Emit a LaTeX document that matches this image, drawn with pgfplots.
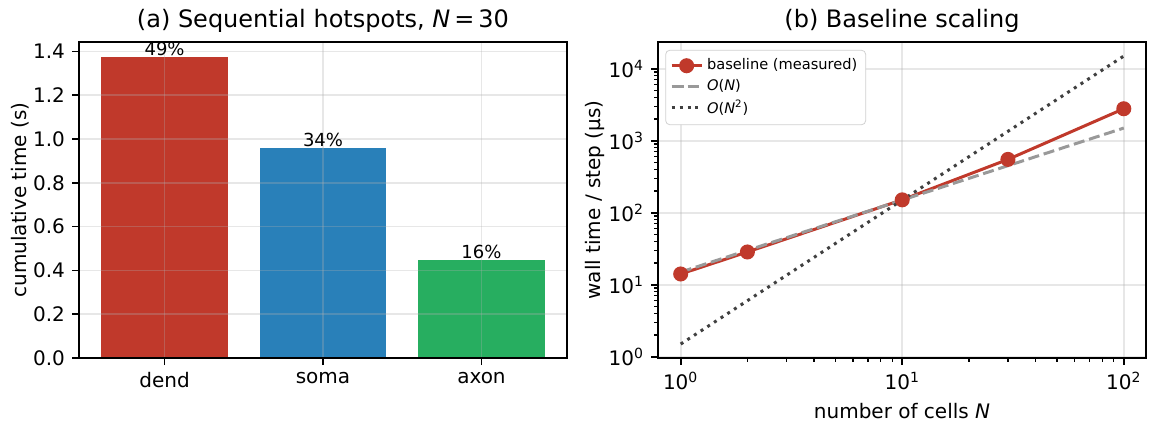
\documentclass[border=0pt]{standalone}
\usepackage{fontspec}
\setmainfont{DejaVu Sans}
\usepackage{pgfplots}
\pgfplotsset{compat=1.18}

\definecolor{cdend}{HTML}{C0392B}
\definecolor{csoma}{HTML}{2980B9}
\definecolor{caxon}{HTML}{27AE60}
\definecolor{gridc}{HTML}{B0B0B0}

\pgfplotsset{
  mplstyle/.style={
    scale only axis,
    width=244pt, height=158pt,
    axis line style={line width=0.8pt},
    tick align=outside,
    tick pos=lower,
    xtick pos=bottom, ytick pos=left,
    major tick length=3.5pt,
    minor tick length=2pt,
    every tick/.style={black, line width=0.8pt},
    minor tick style={line width=0.6pt},
    tick label style={font=\fontsize{10}{12}\selectfont},
    label style={font=\fontsize{10}{12}\selectfont},
    ylabel style={yshift=-5pt},
    title style={font=\fontsize{12}{14}\selectfont, yshift=-5pt},
    grid style={color=gridc, opacity=0.3, line width=0.8pt},
    /pgf/number format/assume math mode=true,
  },
}

\begin{document}
\begin{tikzpicture}
\useasboundingbox (0,0) rectangle (578pt,214.5pt);

% (a) hotspots
\begin{axis}[
    mplstyle,
    at={(39.5pt,35.5pt)}, anchor=south west,
    title={(a) Sequential hotspots, \textit{N}\,=\,30},
    ylabel={cumulative time (s)},
    xmin=-0.54, xmax=2.54,
    ymin=0, ymax=1.443,
    xtick={0,1,2},
    xticklabels={dend,soma,axon},
    ytick={0,0.2,0.4,0.6,0.8,1.0,1.2,1.4},
    yticklabel style={/pgf/number format/.cd, fixed, fixed zerofill, precision=1},
    grid=major,
    axis on top,
    ybar, bar width=0.8, bar shift=0pt,
    nodes near coords,
    point meta=explicit symbolic,
    nodes near coords style={font=\fontsize{9}{10}\selectfont, inner sep=0.5pt, anchor=south, black},
]
\addplot[fill=cdend, draw=none] coordinates {(0,1.374) [49\%]};
\addplot[fill=csoma, draw=none] coordinates {(1,0.957) [34\%]};
\addplot[fill=caxon, draw=none] coordinates {(2,0.447) [16\%]};
\end{axis}

% (b) scaling
\begin{axis}[
    mplstyle,
    at={(329pt,35.5pt)}, anchor=south west,
    title={(b) Baseline scaling},
    xlabel={number of cells \textit{N}},
    ylabel={wall time / step (µs)},
    xmode=log, ymode=log,
    xmin=0.79, xmax=126,
    ymin=0.96, ymax=23500,
    xtick={1,10,100},
    xticklabels={10\textsuperscript{0},10\textsuperscript{1},10\textsuperscript{2}},
    ytick={1,10,100,1000,10000},
    yticklabels={10\textsuperscript{0},10\textsuperscript{1},10\textsuperscript{2},10\textsuperscript{3},10\textsuperscript{4}},
    grid=major,
    legend cell align=left,
    legend image code/.code={
      \draw[mark repeat=2, mark phase=2] plot coordinates {(0pt,0pt) (7.5pt,0pt) (15pt,0pt)};
    },
    legend style={
      at={(0.015,0.975)}, anchor=north west,
      font=\fontsize{7.3}{8.8}\selectfont,
      draw=black!18, rounded corners=2pt,
      fill=white,
      inner sep=2.2pt, row sep=-0.8pt,
    },
]
\addplot[color=cdend, line width=1.5pt, mark=*, mark size=3pt, mark options={solid, fill=cdend}]
  coordinates {(1,14.1) (2,28.5) (10,151) (30,550) (100,2780)};
\addlegendentry{baseline (measured)}
\addplot[color=black!40, line width=1.5pt, dash pattern=on 5.55pt off 2.4pt]
  coordinates {(1,15) (2,30) (10,150) (30,450) (100,1500)};
\addlegendentry{\textit{O}(\textit{N})}
\addplot[color=black!75, line width=1.5pt, dash pattern=on 1.5pt off 2.475pt]
  coordinates {(1,1.5) (2,6) (10,150) (30,1350) (100,15000)};
\addlegendentry{\textit{O}(\textit{N}\textsuperscript{2})}
\end{axis}
\end{tikzpicture}
\end{document}
